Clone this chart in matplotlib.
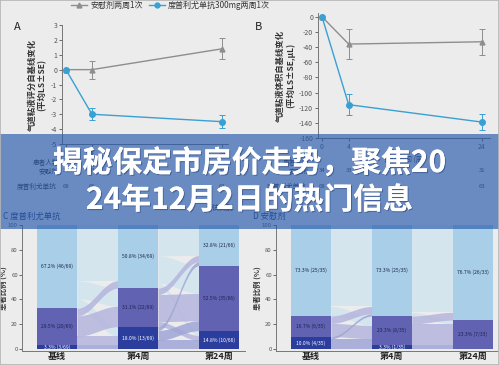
import numpy as np
import matplotlib
matplotlib.use("Agg")
import matplotlib.pyplot as plt
import matplotlib.patheffects as pe
from matplotlib.lines import Line2D
from matplotlib.patches import Rectangle
from matplotlib.transforms import blended_transform_factory

plt.rcParams['font.family'] = ['Noto Sans CJK SC', 'DejaVu Sans']
plt.rcParams['axes.unicode_minus'] = False

# ---- data: panel A / B (change from baseline) ----
weeks = [0, 4, 24]
a_placebo = [0.0, 0.0, 1.4]
a_placebo_err = [0.0, 0.6, 0.7]
a_dupi = [0.0, -3.0, -3.5]
a_dupi_err = [0.0, 0.4, 0.45]

b_placebo = [0.0, -36, -33]
b_placebo_err = [0.0, 20, 17]
b_dupi = [0.0, -116, -139]
b_dupi_err = [0.0, 14, 11]

n_placebo = [34, 33, 31]
n_dupi = [68, 66, 63]

# ---- data: panel C / D (share of patients, order: dark, mid, light) ----
timepoints = ['基线', '第4周', '第24周']
c_shares = [[3.3, 29.5, 67.2], [18.0, 31.1, 50.8], [14.8, 52.5, 32.8]]
c_labels = [['3.3% (3/69)', '29.5% (20/69)', '67.2% (46/69)'],
            ['18.0% (13/69)', '31.1% (22/69)', '50.8% (34/69)'],
            ['14.8% (10/66)', '52.5% (35/66)', '32.8% (21/66)']]
# flows[t][src][dst]
c_flows = [[[3.3, 0.0, 0.0], [7.0, 16.5, 6.0], [7.7, 14.6, 44.9]],
           [[7.0, 8.0, 3.0], [4.0, 22.0, 5.1], [3.8, 22.3, 24.7]]]

d_shares = [[10.0, 16.7, 73.3], [3.3, 23.3, 73.3], [0.0, 23.3, 76.7]]
d_labels = [['10.0% (4/35)', '16.7% (6/35)', '73.3% (25/35)'],
            ['3.3% (1/35)', '23.3% (8/35)', '73.3% (25/35)'],
            ['', '23.3% (7/33)', '76.7% (26/33)']]
d_flows = [[[3.3, 5.0, 1.7], [0.0, 10.7, 6.0], [0.0, 7.6, 65.7]],
           [[0.0, 3.3, 0.0], [0.0, 17.0, 6.3], [0.0, 3.0, 70.3]]]

bar_colors = ['#2b3e9e', '#6262b2', '#a9cfe8']
flow_colors = ['#9fa6d6', '#b5b5dd', '#d2e4ef']
label_colors = ['white', '#1c2250', '#1c2250']

W, H = 499, 365
bg = '#ececec'
gray = '#8e8e8e'
blue = '#3aa0d2'

fig = plt.figure(figsize=(W / 100, H / 100), dpi=100, facecolor=bg)


def fx(x):
    return x / W


def fy(y):
    return 1 - y / H


def line_panel(rect, plac, plac_err, dupi, dupi_err, ylim, yticks, ylabel, letter, lx):
    ax = fig.add_axes(rect)
    ax.set_facecolor('none')
    ax.errorbar(weeks, plac, yerr=plac_err, color=gray, marker='^', ms=3.5,
                lw=1.0, elinewidth=0.7, capsize=2, capthick=0.7)
    ax.errorbar(weeks, dupi, yerr=dupi_err, color=blue, marker='o', ms=4,
                lw=1.0, elinewidth=0.7, capsize=2, capthick=0.7)
    ax.set_ylim(*ylim)
    ax.set_yticks(yticks)
    ax.set_xticks(weeks)
    for s in ['top', 'right']:
        ax.spines[s].set_visible(False)
    for s in ['left', 'bottom']:
        ax.spines[s].set_color('#777777')
        ax.spines[s].set_linewidth(0.7)
    ax.tick_params(labelsize=5, colors='#555555', length=2, width=0.6, pad=1.5)
    ax.set_ylabel(ylabel, fontsize=6, color='#333333', fontweight='bold',
                  labelpad=3, linespacing=1.1)
    fig.text(fx(lx), fy(27), letter, fontsize=8, color='#222222',
             ha='center', va='center')
    return ax


axA = line_panel([fx(62), fy(144), fx(166), (144 - 25) / H],
                 a_placebo, a_placebo_err, a_dupi, a_dupi_err,
                 (-5, 3), range(-5, 4), '气道粘液评分自基线变化\n(平均LS±SE)', 'A', 17)
axA.set_xlim(-0.6, 24.9)

axB = line_panel([fx(318), fy(138), fx(172), (138 - 13) / H],
                 b_placebo, b_placebo_err, b_dupi, b_dupi_err,
                 (-160, 5), range(-160, 1, 20), '气道粘液体积自基线变化\n(平均LS±SE,μL)', 'B', 259)
axB.set_xlim(-0.6, 25.2)

# number-at-risk table under A and B
for ax, tx in [(axA, 33), (axB, 283)]:
    tr = blended_transform_factory(ax.transData, fig.transFigure)
    fig.text(fx(tx), fy(163), '患者人数', fontsize=4.8, color='#333333',
             ha='left', va='center')
    fig.text(fx(tx + 6), fy(171), '安慰剂', fontsize=4.8, color='#333333',
             ha='left', va='center')
    fig.text(fx(tx - 16), fy(187), '度普利尤单抗', fontsize=4.8, color='#333333',
             ha='left', va='center')
    for w, n1, n2 in zip(weeks, n_placebo, n_dupi):
        ax.text(w, fy(171), str(n1), transform=tr, fontsize=4.3,
                color='#444444', ha='center', va='center')
        ax.text(w, fy(187), str(n2), transform=tr, fontsize=4.3,
                color='#444444', ha='center', va='center')
fig.text(fx(405), fy(160), '评估时间 (周)', fontsize=5, color='#333333',
         ha='center', va='center')
fig.text(fx(220), fy(208), '评估类别', fontsize=5, color='#333333',
         ha='center', va='center')

# top legend
handles = [Line2D([], [], color=gray, marker='^', ms=3.5, lw=1.0),
           Line2D([], [], color=blue, marker='o', ms=3.5, lw=1.0)]
fig.legend(handles, ['安慰剂两周1次', '度普利尤单抗300mg两周1次'],
           loc='upper left', bbox_to_anchor=(fx(64), 1.018), ncol=2,
           frameon=False, fontsize=5.8, handlelength=2.0, handletextpad=0.4,
           columnspacing=0.7, labelcolor='#333333')


def alluvial_panel(rect, shares, labels, flows, title, tx):
    ax = fig.add_axes(rect)
    ax.set_facecolor('none')
    bw = 0.494
    x = np.arange(len(timepoints))
    # flows
    for t, fl in enumerate(flows):
        x0, x1 = x[t] + bw / 2, x[t + 1] - bw / 2
        xs = np.linspace(x0, x1, 60)
        s = (1 - np.cos(np.pi * (xs - x0) / (x1 - x0))) / 2
        src_base = np.concatenate([[0], np.cumsum(shares[t])[:-1]])
        dst_base = np.concatenate([[0], np.cumsum(shares[t + 1])[:-1]])
        src_off = src_base.copy()
        bands = []
        for i in range(3):
            for j in range(3):
                v = fl[i][j]
                bands.append((i, j, v, src_off[i]))
                src_off[i] += v
        # destination offsets ordered by source
        dst_off = dst_base.copy()
        dst_pos = {}
        for j in range(3):
            for i in range(3):
                dst_pos[(i, j)] = dst_off[j]
                dst_off[j] += fl[i][j]
        for i in [2, 1, 0]:
            for (si, j, v, y0) in bands:
                if si != i or v <= 0:
                    continue
                y1 = dst_pos[(si, j)]
                lo = y0 + (y1 - y0) * s
                ax.fill_between(xs, lo, lo + v, color=flow_colors[si],
                                alpha=0.85, lw=0)
    # bars
    for t in range(len(timepoints)):
        bottom = 0
        for k in range(3):
            v = shares[t][k]
            ax.bar(x[t], v, bottom=bottom, width=bw, color=bar_colors[k], lw=0)
            if labels[t][k]:
                ax.text(x[t], bottom + v / 2, labels[t][k], fontsize=3.6,
                        color=label_colors[k], ha='center', va='center')
            bottom += v
    ax.set_xlim(-0.432, 2.32)
    ax.set_ylim(-1.5, 100)
    ax.set_xticks(x)
    ax.set_xticklabels(timepoints, fontsize=6.5, fontweight='bold',
                       color='#222222')
    ax.set_yticks(range(0, 101, 20))
    for s in ['top', 'right']:
        ax.spines[s].set_visible(False)
    for s in ['left', 'bottom']:
        ax.spines[s].set_color('#777777')
        ax.spines[s].set_linewidth(0.7)
    ax.tick_params(axis='y', labelsize=4.3, colors='#555555', length=2,
                   width=0.6, pad=1)
    ax.tick_params(axis='x', length=0, pad=1)
    ax.set_ylabel('患者比例 (%)', fontsize=5.3, fontweight='bold',
                  color='#333333', labelpad=0.5)
    fig.text(fx(tx), fy(216), title, fontsize=6, color='#2a3670',
             ha='left', va='center')
    return ax


alluvial_panel([fx(22), 0.0386, fx(223), 0.345], c_shares, c_labels, c_flows,
               'C 度普利尤单抗', 3)
alluvial_panel([fx(276), 0.0386, fx(222.5), 0.345], d_shares, d_labels, d_flows,
               'D 安慰剂', 253)

# overlay banner and headline
fig.add_artist(Rectangle((0, fy(229)), 1, (229 - 134) / H, transform=fig.transFigure,
                         color='#2458ab', alpha=0.65, lw=0, zorder=5))
shadow = [pe.withSimplePatchShadow(offset=(0.8, -0.8), shadow_rgbFace='#203a70',
                                   alpha=0.5), pe.Normal()]
fig.text(0.5, fy(163), '揭秘保定市房价走势，聚焦20', fontsize=21.5, color='white',
         fontweight='bold', ha='center', va='center', zorder=6, path_effects=shadow)
fig.text(0.5, fy(200), '24年12月2日的热门信息', fontsize=21.5, color='white',
         fontweight='bold', ha='center', va='center', zorder=6, path_effects=shadow)

fig.add_artist(Rectangle((0, 0), 1, 1, transform=fig.transFigure, fill=False,
                         edgecolor='#b5b5b5', lw=1.2, zorder=7))

fig.savefig('out.png', dpi=100, facecolor=bg)
